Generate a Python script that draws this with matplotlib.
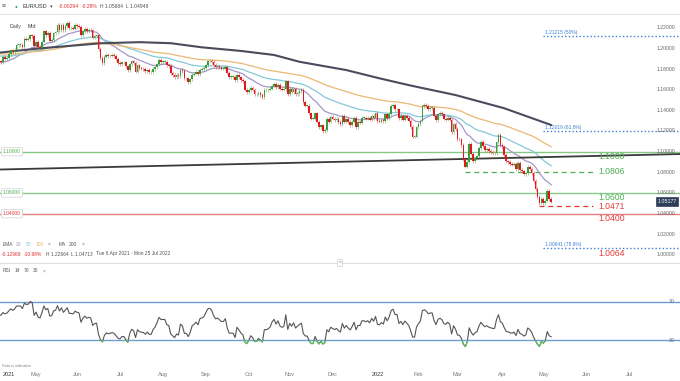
import numpy as np
import pandas as pd
import matplotlib
matplotlib.use('Agg')
import matplotlib.pyplot as plt
from matplotlib.lines import Line2D
from matplotlib.patches import Rectangle

plt.rcParams['font.family'] = ['Liberation Sans', 'DejaVu Sans']

# ---- data --------------------------------------------------------------
# EUR/USD daily closes, Tue 6 Apr 2021 .. Fri 6 May 2022
first_open = 1.1815
closes = [
    1.1875, 1.1870, 1.1915, 1.1900,
    1.1910, 1.1945, 1.1980, 1.1965, 1.1985,
    1.2035, 1.2035, 1.2035, 1.2015, 1.2095,
    1.2085, 1.2090, 1.2125, 1.2120, 1.2020,
    1.2060, 1.2015, 1.2005, 1.2065, 1.2165,
    1.2130, 1.2150, 1.2075, 1.2080, 1.2145,
    1.2155, 1.2225, 1.2175, 1.2225, 1.2180,
    1.2215, 1.2250, 1.2195, 1.2195, 1.2190,
    1.2225, 1.2215, 1.2210, 1.2125, 1.2165,
    1.2190, 1.2170, 1.2180, 1.2175, 1.2105,
    1.2120, 1.2125, 1.1995, 1.1905, 1.1860,
    1.1915, 1.1940, 1.1925, 1.1930, 1.1935,
    1.1925, 1.1895, 1.1860, 1.1850, 1.1865,
    1.1865, 1.1825, 1.1790, 1.1845, 1.1875,
    1.1860, 1.1775, 1.1835, 1.1810, 1.1805,
    1.1800, 1.1780, 1.1795, 1.1770, 1.1770,
    1.1800, 1.1815, 1.1845, 1.1885, 1.1870,
    1.1870, 1.1870, 1.1835, 1.1830, 1.1760,
    1.1740, 1.1720, 1.1740, 1.1730, 1.1795,
    1.1780, 1.1710, 1.1710, 1.1675, 1.1700,
    1.1745, 1.1755, 1.1770, 1.1750, 1.1795,
    1.1800, 1.1810, 1.1840, 1.1875, 1.1880,
    1.1870, 1.1840, 1.1820, 1.1825, 1.1815,
    1.1805, 1.1805, 1.1820, 1.1765, 1.1725,
    1.1725, 1.1725, 1.1690, 1.1740, 1.1720,
    1.1695, 1.1680, 1.1600, 1.1580, 1.1595,
    1.1620, 1.1600, 1.1555, 1.1555, 1.1570,
    1.1550, 1.1530, 1.1595, 1.1595, 1.1600,
    1.1610, 1.1640, 1.1655, 1.1625, 1.1645,
    1.1610, 1.1600, 1.1605, 1.1680, 1.1560,
    1.1610, 1.1580, 1.1610, 1.1555, 1.1570,
    1.1585, 1.1595, 1.1480, 1.1445, 1.1445,
    1.1370, 1.1320, 1.1320, 1.1370, 1.1290,
    1.1235, 1.1255, 1.1200, 1.1210, 1.1320,
    1.1290, 1.1335, 1.1320, 1.1305, 1.1315,
    1.1285, 1.1270, 1.1345, 1.1290, 1.1315,
    1.1285, 1.1260, 1.1290, 1.1330, 1.1240,
    1.1285, 1.1280, 1.1330, 1.1330, 1.1320,
    1.1330, 1.1310, 1.1350, 1.1325, 1.1370,
    1.1295, 1.1290, 1.1310, 1.1295, 1.1360,
    1.1325, 1.1365, 1.1440, 1.1455, 1.1410,
    1.1410, 1.1325, 1.1345, 1.1310, 1.1345,
    1.1325, 1.1300, 1.1240, 1.1145, 1.1145,
    1.1235, 1.1270, 1.1300, 1.1440, 1.1455,
    1.1440, 1.1415, 1.1425, 1.1425, 1.1350,
    1.1305, 1.1360, 1.1375, 1.1360, 1.1320,
    1.1310, 1.1330, 1.1310, 1.1190, 1.1270,
    1.1220, 1.1125, 1.1120, 1.1065, 1.0930,
    1.0855, 1.0900, 1.1075, 1.0980, 1.0910,
    1.0940, 1.0955, 1.1035, 1.1095, 1.1050,
    1.1015, 1.1030, 1.1005, 1.0995, 1.0985,
    1.0985, 1.1090, 1.1160, 1.1065, 1.1045,
    1.0970, 1.0905, 1.0900, 1.0880, 1.0875,
    1.0885, 1.0830, 1.0890, 1.0825, 1.0810,
    1.0780, 1.0790, 1.0855, 1.0835, 1.0795,
    1.0715, 1.0640, 1.0560, 1.0500, 1.0545,
    1.0505, 1.0525, 1.0620, 1.0540, 1.0517,
]

ema_spans = [20, 50, 100]
ema_seeds = [1.1860, 1.1930, 1.1950]
ema_colors = ['#a497c9', '#84c9d8', '#eab872']

ma200_dates = ['2021-04-06', '2021-05-05', '2021-06-17', '2021-07-15', '2021-08-06',
               '2021-08-30', '2021-09-27', '2021-10-20', '2021-11-08', '2021-12-10',
               '2022-01-04', '2022-01-26', '2022-02-28', '2022-04-04', '2022-05-06']
ma200_vals = [1.1958, 1.2000, 1.2049, 1.2060, 1.2050,
              1.2010, 1.1975, 1.1936, 1.1870, 1.1790,
              1.1710, 1.1640, 1.1548, 1.1420, 1.1258]

trend_dates = ['2021-04-06', '2022-08-08']
trend_prices = [1.0827, 1.0977]

fib_levels = [1.21215, 1.12019, 1.00641]
fib_labels = ['1.21215 (50%)', '1.12019 (61.8%)', '1.00641 (78.6%)']

solid_levels = [1.1000, 1.0600, 1.0400]
solid_tags = ['1.10000', '1.06000', '1.04000']
solid_names = ['1.1000', '1.0600', '1.0400']
dash_levels = [1.0806, 1.0471]
dash_from = ['2022-03-07', '2022-04-28']
last_price = 1.05177

rsi_seed_gain, rsi_seed_loss = 0.0030, 0.0027

month_starts = ['2021-05', '2021-06', '2021-07', '2021-08', '2021-09', '2021-10', '2021-11',
                '2021-12', '2022-01', '2022-02', '2022-03', '2022-04', '2022-05', '2022-06', '2022-07']
month_labels = ['May', 'Jun', 'Jul', 'Aug', 'Sep', 'Oct', 'Nov',
                'Dec', '2022', 'Feb', 'Mar', 'Apr', 'May', 'Jun', 'Jul']

# ---- helpers -------------------------------------------------------------
W, H = 680, 381
GREEN, RED = '#3a9d3a', '#e0191f'
LVL_GREEN, LVL_RED = '#4fae52', '#e53a3a'
BLUE = '#3a7fd6'


def fx(x):
    return x / W


def fy(y):
    return 1 - y / H


def px2price(y):
    return 1.22 - (y - 27.7) / 1033


def price2px(p):
    return 27.7 + (1.22 - p) * 1033


all_days = pd.bdate_range('2021-04-06', '2022-09-30')
pos = {d.strftime('%Y-%m-%d'): i for i, d in enumerate(all_days)}


def xi(date):
    return pos[date]


closes = np.array(closes)
n = len(closes)
idx = np.arange(n)
opens = np.r_[first_open, closes[:-1]]


def ema(vals, span, seed):
    a = 2 / (span + 1)
    e, out = seed, []
    for v in vals:
        e = e + a * (v - e)
        out.append(e)
    return np.array(out)


def rsi(vals, period=14):
    g, l, prev, out = rsi_seed_gain, rsi_seed_loss, first_open, []
    for v in vals:
        d = v - prev
        g = (g * (period - 1) + max(d, 0)) / period
        l = (l * (period - 1) + max(-d, 0)) / period
        out.append(100 - 100 / (1 + g / l))
        prev = v
    return np.array(out)


X0, X1 = 1 / 1.951, 681 / 1.951

fig = plt.figure(figsize=(6.8, 3.81), dpi=100)
fig.patch.set_facecolor('white')

# ---- price panel ---------------------------------------------------------
ax = fig.add_axes([0, fy(260), 1, (260 - 15) / H])
ax.set_xlim(X0, X1)
ax.set_ylim(px2price(260), px2price(15))
ax.axis('off')
yt = ax.get_yaxis_transform()

up = closes >= opens
cols = np.where(up, GREEN, RED)
WICK = 0.0017
ax.vlines(idx, np.minimum(opens, closes) - WICK, np.maximum(opens, closes) + WICK,
          colors=cols, lw=0.6, alpha=0.5, zorder=3)
ax.bar(idx, np.maximum(np.abs(closes - opens), 0.0004), bottom=np.minimum(opens, closes),
       width=0.85, color=cols, linewidth=0, zorder=4)

for span, seed, c in zip(ema_spans, ema_seeds, ema_colors):
    ax.plot(idx, ema(closes, span, seed), color=c, lw=0.9, zorder=2)
ax.plot([xi(d) for d in ma200_dates], ma200_vals, color='#4a4b5c', lw=1.5, zorder=2)
ax.plot([xi(d) for d in trend_dates], trend_prices, color='#3a3a3a', lw=1.3, zorder=2)

for lv, tag, name in zip(solid_levels, solid_tags, solid_names):
    c = LVL_RED if lv < 1.05 else LVL_GREEN
    lc = '#e57f7f' if lv < 1.05 else '#86c886'
    ax.axhline(lv, color=lc, lw=1.0, zorder=1)
    ax.text(fx(3), lv, tag, transform=yt, fontsize=3.5, color=c, ha='left', va='center',
            bbox=dict(boxstyle='round,pad=0.35', fc='white', ec='#d0d0d0', lw=0.5), zorder=6)
    ax.text(fx(598), px2price(price2px(lv) + 5), name, transform=yt,
            fontsize=6.2, color=c, ha='left', va='center', zorder=6)

for lv, start in zip(dash_levels, dash_from):
    c = LVL_GREEN if lv > 1.06 else LVL_RED
    x_end = 593 / 1.951 + 0.5
    ax.plot([xi(start), x_end], [lv, lv], color=c, lw=0.9, ls=(0, (4, 3)), zorder=1)
    ax.text(fx(598), lv, '%.4f' % lv, transform=yt, fontsize=6.2, color=c,
            ha='left', va='center', zorder=6)

for lv, lab in zip(fib_levels, fib_labels):
    ax.plot([fx(543), 1], [lv, lv], transform=yt, color=BLUE, lw=1.0, ls=(0, (1, 1.6)), zorder=1)
    ax.text(fx(545), px2price(price2px(lv) - 3.5), lab, transform=yt,
            fontsize=3.5, color=BLUE, ha='left', va='center')
ax.text(fx(598), px2price(254), '1.0064', transform=yt, fontsize=6.2, color=LVL_RED,
        ha='left', va='center')

for p in np.arange(1.00, 1.2201, 0.02):
    ax.text(fx(666), p, '%.5f' % p, transform=yt, fontsize=3.7, color='#666666',
            ha='center', va='center', zorder=5)
ax.text(fx(667), last_price, '%.5f' % last_price, transform=yt, fontsize=3.8, color='white',
        ha='center', va='center', zorder=7,
        bbox=dict(boxstyle='square,pad=0.35', fc='#2e3d58', ec='#2e3d58', lw=0.5))

# ---- RSI panel -----------------------------------------------------------
axr = fig.add_axes([0, fy(360), 1, 80 / H])
axr.set_xlim(X0, X1)
axr.set_ylim(30 - 20 / 0.9625, 70 + 21.5 / 0.9625)
for s in axr.spines.values():
    s.set_visible(False)
axr.set_yticks([])
axr.axhline(70, color='#6e9dd4', lw=1.0)
axr.axhline(30, color='#6e9dd4', lw=1.0)
rv = rsi(closes)
axr.plot(idx, rv, color='#555555', lw=0.8)
lg, = axr.plot(idx, rv, color='#5cbf5c', lw=0.9)
lg.set_clip_path(Rectangle((-50, -50), 1000, 80, transform=axr.transData))
lr, = axr.plot(idx, rv, color='#e03030', lw=0.9)
lr.set_clip_path(Rectangle((-50, 70), 1000, 80, transform=axr.transData))
ryt = axr.get_yaxis_transform()
axr.text(fx(672), 70, '70', transform=ryt, fontsize=3.7, color='#666666', ha='center', va='center')
axr.text(fx(672), 30, '30', transform=ryt, fontsize=3.7, color='#666666', ha='center', va='center')

tick_pos = [xi(all_days[all_days.strftime('%Y-%m') == m][0].strftime('%Y-%m-%d')) for m in month_starts]
axr.set_xticks(tick_pos, month_labels)
axr.tick_params(axis='x', length=0, pad=8.5, labelsize=4, colors='#777777')
for t in axr.get_xticklabels():
    if t.get_text() == '2022':
        t.set_color('#333333')
fig.text(fx(3), fy(375), '2021', fontsize=4, color='#333333', ha='left', va='center')
fig.text(fx(2), fy(366), 'Data is indicative', fontsize=2.8, color='#888888', ha='left', va='center')

# ---- header and overlay text ---------------------------------------------
fig.add_artist(Line2D([0, 1], [fy(13.5), fy(13.5)], color='#e6e6e6', lw=0.8))
fig.add_artist(Line2D([0, 1], [fy(263), fy(263)], color='#dddddd', lw=0.7))
fig.text(fx(340), fy(263), '=', fontsize=3.5, color='#888888', ha='center', va='center',
         bbox=dict(boxstyle='round,pad=0.2', fc='white', ec='#cccccc', lw=0.5))

fig.text(fx(2), fy(6.8), '≡', fontsize=5, color='#666666', ha='left', va='center')
fig.text(fx(15), fy(6.8), '●', fontsize=3.5, color='#2eaa4a', ha='left', va='center')
fig.text(fx(22), fy(6.8), 'EUR/USD', fontsize=4.0, color='#333333', ha='left', va='center')
fig.text(fx(50), fy(6.8), '▾', fontsize=3.8, color='#555555', ha='left', va='center')
fig.text(fx(59), fy(6.8), '-0.00294', fontsize=3.6, color='#e03030', ha='left', va='center')
fig.text(fx(82), fy(6.8), '-0.28%', fontsize=3.6, color='#e03030', ha='left', va='center')
fig.text(fx(100), fy(6.8), 'H 1.05684', fontsize=3.6, color='#555555', ha='left', va='center')
fig.text(fx(126), fy(6.8), 'L 1.04948', fontsize=3.6, color='#555555', ha='left', va='center')

fig.text(fx(10), fy(26.5), 'Daily', fontsize=3.8, color='#444444', ha='left', va='center')
fig.text(fx(28), fy(26.5), 'Mid', fontsize=3.8, color='#444444', ha='left', va='center')

row1 = [(3, 'EMA', '#555555'), (16, '20', ema_colors[0]), (26, '50', ema_colors[1]),
        (36, '100', ema_colors[2]), (48, '×', '#777777'), (59, 'MA', '#555555'),
        (69, '200', '#555555'), (82, '×', '#777777')]
for x, s, c in row1:
    fig.text(fx(x), fy(244), s, fontsize=3.5, color=c, ha='left', va='center')
row2 = [(2, '-0.12969', '#e03030'), (24, '-10.98%', '#e03030'), (46, 'H 1.22664', '#555555'),
        (71, 'L 1.04713', '#555555'), (96, 'Tue 6 Apr 2021 - Mon 25 Jul 2022', '#555555')]
for x, s, c in row2:
    fig.text(fx(x), fy(254), s, fontsize=3.5, color=c, ha='left', va='center')
row3 = [(3, 'RSI', '#555555'), (15, '14', '#555555'), (24, '70', '#555555'),
        (33, '30', '#555555'), (43, '×', '#777777')]
for x, s, c in row3:
    fig.text(fx(x), fy(271), s, fontsize=3.5, color=c, ha='left', va='center')

fig.savefig('out.png', dpi=100, facecolor='white')
